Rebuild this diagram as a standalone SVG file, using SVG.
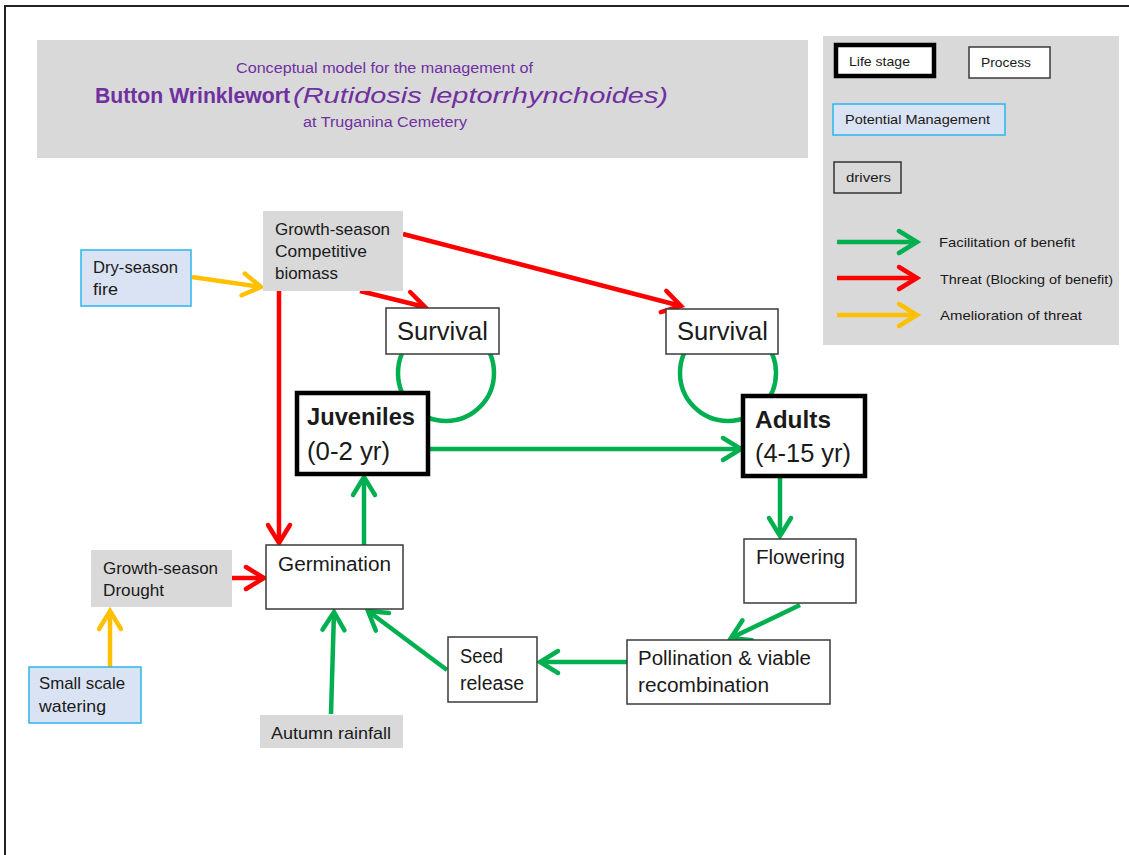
<svg xmlns="http://www.w3.org/2000/svg" width="1129" height="855" viewBox="0 0 1129 855">
  <style>
    text { font-family: "Liberation Sans", Arial, sans-serif; fill: #1a1a1a; }
    .title { fill: #7030a0; }
    .proc { fill: #ffffff; stroke: #3a3a3a; stroke-width: 1.5; }
    .stage { fill: #ffffff; stroke: #000000; stroke-width: 4.5; }
    .driver { fill: #d9d9d9; stroke: none; }
    .mgmt { fill: #dae3f3; stroke: #2ab6ef; stroke-width: 1.5; }
    .g { stroke: #00b050; stroke-width: 4.5; fill: none; marker-end: url(#ag); }
    .r { stroke: #ff0000; stroke-width: 4.5; fill: none; marker-end: url(#ar); }
    .y { stroke: #ffc000; stroke-width: 4.5; fill: none; marker-end: url(#ay); }
    .loop { stroke: #00b050; stroke-width: 4.5; fill: none; }
    .t17 { font-size: 17px; }
    .t20 { font-size: 20px; }
    .t13 { font-size: 13px; }
  </style>
  <defs>
    <marker id="ag" markerUnits="userSpaceOnUse" markerWidth="30" markerHeight="30" refX="20" refY="15" orient="auto" overflow="visible">
      <path d="M2,4 L20,15 L2,26" fill="none" stroke="#00b050" stroke-width="4.5" stroke-linecap="round" stroke-linejoin="miter"/>
    </marker>
    <marker id="ar" markerUnits="userSpaceOnUse" markerWidth="30" markerHeight="30" refX="20" refY="15" orient="auto" overflow="visible">
      <path d="M2,4 L20,15 L2,26" fill="none" stroke="#ff0000" stroke-width="4.5" stroke-linecap="round" stroke-linejoin="miter"/>
    </marker>
    <marker id="ay" markerUnits="userSpaceOnUse" markerWidth="30" markerHeight="30" refX="20" refY="15" orient="auto" overflow="visible">
      <path d="M2,4 L20,15 L2,26" fill="none" stroke="#ffc000" stroke-width="4.5" stroke-linecap="round" stroke-linejoin="miter"/>
    </marker>
  </defs>

  <rect x="0" y="0" width="1129" height="855" fill="#ffffff"/>
  <!-- outer frame -->
  <path d="M5,855 L5,6 L1129,6" fill="none" stroke="#222" stroke-width="2"/>

  <!-- title panel -->
  <g id="title">
    <rect x="37" y="40" width="771" height="118" fill="#d9d9d9"/>
    <text class="title" x="236" y="73" font-size="14" textLength="297" lengthAdjust="spacingAndGlyphs">Conceptual model for the management of</text>
    <text class="title" x="95" y="103" font-size="22" font-weight="bold" textLength="195" lengthAdjust="spacingAndGlyphs">Button Wrinklewort</text>
    <text class="title" x="293" y="103" font-size="22" font-style="italic" textLength="375" lengthAdjust="spacingAndGlyphs">(Rutidosis leptorrhynchoides)</text>
    <text class="title" x="303" y="127" font-size="14" textLength="164" lengthAdjust="spacingAndGlyphs">at Truganina Cemetery</text>
  </g>

  <!-- legend -->
  <g id="legend">
    <rect x="823" y="36" width="296" height="309" fill="#d9d9d9"/>
    <rect class="stage" x="836" y="45" width="98" height="31" stroke-width="4"/>
    <text class="t13" x="849" y="66" textLength="61" lengthAdjust="spacingAndGlyphs">Life stage</text>
    <rect class="proc" x="969" y="47" width="81" height="31"/>
    <text class="t13" x="981" y="67" textLength="50" lengthAdjust="spacingAndGlyphs">Process</text>
    <rect class="mgmt" x="833" y="104" width="172" height="31"/>
    <text class="t13" x="845" y="124" textLength="145" lengthAdjust="spacingAndGlyphs">Potential Management</text>
    <rect x="834" y="162" width="67" height="31" fill="#d9d9d9" stroke="#333" stroke-width="1.5"/>
    <text class="t13" x="846" y="182" textLength="45" lengthAdjust="spacingAndGlyphs">drivers</text>
    <line class="g" x1="837" y1="242" x2="917" y2="242"/>
    <text class="t13" x="939" y="247" textLength="136" lengthAdjust="spacingAndGlyphs">Facilitation of benefit</text>
    <line class="r" x1="837" y1="278" x2="917" y2="278"/>
    <text class="t13" x="940" y="284" textLength="173" lengthAdjust="spacingAndGlyphs">Threat  (Blocking of benefit)</text>
    <line class="y" x1="837" y1="315" x2="917" y2="315"/>
    <text class="t13" x="940" y="320" textLength="142" lengthAdjust="spacingAndGlyphs">Amelioration of threat</text>
  </g>

  <!-- connectors -->
  <g id="connectors">
    <circle class="loop" cx="446" cy="373" r="48"/>
    <circle class="loop" cx="728" cy="373" r="48"/>
    <line class="y" x1="192" y1="277" x2="261" y2="287"/>
    <line class="r" x1="279" y1="291" x2="279" y2="543"/>
    <line class="r" x1="360" y1="291" x2="425" y2="307"/>
    <line class="r" x1="403" y1="234" x2="681" y2="306"/>
    <line class="g" x1="428" y1="449" x2="741" y2="449"/>
    <line class="g" x1="780" y1="477" x2="780" y2="536"/>
    <line class="g" x1="800" y1="605" x2="731" y2="638"/>
    <line class="g" x1="627" y1="662" x2="540" y2="662"/>
    <line class="g" x1="447" y1="670" x2="368" y2="611"/>
    <line class="g" x1="331" y1="714" x2="334" y2="612"/>
    <line class="g" x1="364" y1="545" x2="364" y2="477"/>
    <line class="r" x1="232" y1="578" x2="264" y2="578"/>
    <line class="y" x1="110" y1="667" x2="110" y2="611"/>
  </g>

  <!-- nodes -->
  <g id="biomass">
    <rect class="driver" x="263" y="211" width="140" height="80"/>
    <text class="t17" x="275" y="235" textLength="115" lengthAdjust="spacingAndGlyphs">Growth-season</text>
    <text class="t17" x="275" y="257" textLength="92" lengthAdjust="spacingAndGlyphs">Competitive</text>
    <text class="t17" x="275" y="279" textLength="63" lengthAdjust="spacingAndGlyphs">biomass</text>
  </g>
  <g id="fire">
    <rect class="mgmt" x="81" y="250" width="110" height="56"/>
    <text class="t17" x="93" y="273" textLength="85" lengthAdjust="spacingAndGlyphs">Dry-season</text>
    <text class="t17" x="93" y="295" textLength="25" lengthAdjust="spacingAndGlyphs">fire</text>
  </g>
  <g id="survival-juv">
    <rect class="proc" x="386" y="308" width="113" height="46"/>
    <text x="397" y="340" font-size="25" textLength="91" lengthAdjust="spacingAndGlyphs">Survival</text>
  </g>
  <g id="survival-adult">
    <rect class="proc" x="666" y="309" width="112" height="45"/>
    <text x="677" y="340" font-size="25" textLength="91" lengthAdjust="spacingAndGlyphs">Survival</text>
  </g>
  <g id="juveniles">
    <rect class="stage" x="297" y="393" width="131" height="81"/>
    <text x="307" y="425" font-size="24" font-weight="bold" textLength="108" lengthAdjust="spacingAndGlyphs">Juveniles</text>
    <text x="307" y="460" font-size="25" textLength="83" lengthAdjust="spacingAndGlyphs">(0-2 yr)</text>
  </g>
  <g id="adults">
    <rect class="stage" x="743" y="396" width="122" height="80"/>
    <text x="755" y="428" font-size="24" font-weight="bold" textLength="76" lengthAdjust="spacingAndGlyphs">Adults</text>
    <text x="755" y="462" font-size="25" textLength="96" lengthAdjust="spacingAndGlyphs">(4-15 yr)</text>
  </g>
  <g id="germination">
    <rect class="proc" x="266" y="545" width="137" height="64"/>
    <text class="t20" x="278" y="571" textLength="113" lengthAdjust="spacingAndGlyphs">Germination</text>
  </g>
  <g id="drought">
    <rect class="driver" x="91" y="550" width="141" height="57"/>
    <text class="t17" x="103" y="574" textLength="115" lengthAdjust="spacingAndGlyphs">Growth-season</text>
    <text class="t17" x="103" y="596" textLength="61" lengthAdjust="spacingAndGlyphs">Drought</text>
  </g>
  <g id="watering">
    <rect class="mgmt" x="29" y="667" width="112" height="56"/>
    <text class="t17" x="39" y="689" textLength="86" lengthAdjust="spacingAndGlyphs">Small scale</text>
    <text class="t17" x="39" y="712" textLength="67" lengthAdjust="spacingAndGlyphs">watering</text>
  </g>
  <g id="rainfall">
    <rect class="driver" x="260" y="715" width="143" height="33"/>
    <text class="t17" x="271" y="739" textLength="120" lengthAdjust="spacingAndGlyphs">Autumn  rainfall</text>
  </g>
  <g id="flowering">
    <rect class="proc" x="744" y="539" width="112" height="64"/>
    <text class="t20" x="756" y="564" textLength="89" lengthAdjust="spacingAndGlyphs">Flowering</text>
  </g>
  <g id="pollination">
    <rect class="proc" x="627" y="640" width="203" height="64"/>
    <text class="t20" x="638" y="665" textLength="173" lengthAdjust="spacingAndGlyphs">Pollination &amp; viable</text>
    <text class="t20" x="638" y="692" textLength="131" lengthAdjust="spacingAndGlyphs">recombination</text>
  </g>
  <g id="seed">
    <rect class="proc" x="448" y="637" width="89" height="65"/>
    <text class="t20" x="460" y="663" textLength="43" lengthAdjust="spacingAndGlyphs">Seed</text>
    <text class="t20" x="460" y="690" textLength="64" lengthAdjust="spacingAndGlyphs">release</text>
  </g>
</svg>
